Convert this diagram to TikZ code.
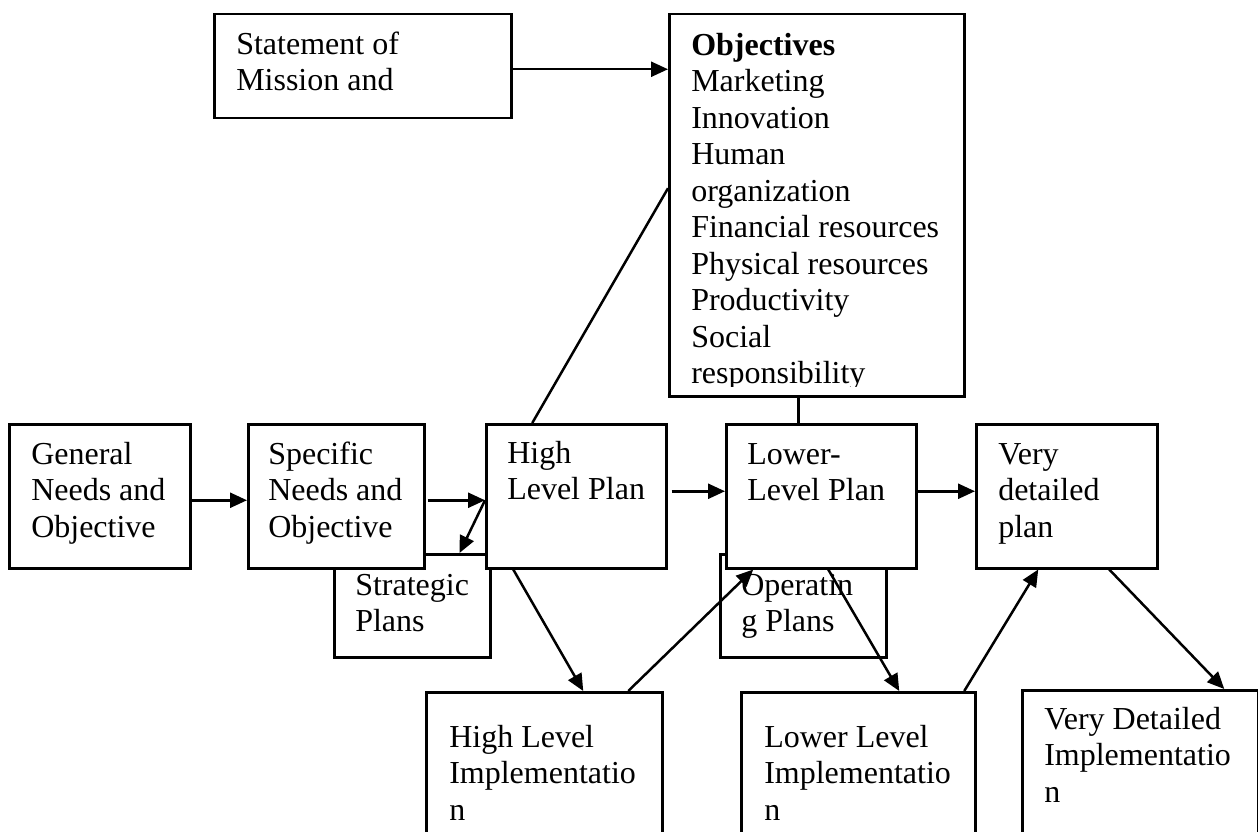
\documentclass[tikz,border=0pt]{standalone}
\usepackage{fontspec}
\setmainfont{Liberation Serif}
\usetikzlibrary{arrows.meta}
\tikzset{
  box/.style={draw, fill=white, line width=2.5pt, anchor=north west,
    inner ysep=0pt, inner xsep=22pt, align=flush left,
    font=\fontsize{32}{36.5}\selectfont},
  conn/.style={line width=2.5pt},
  arr/.style={line width=2.5pt, -{Triangle[length=17pt,width=15pt]}}
}
\begin{document}
\begin{tikzpicture}[x=1pt,y=-1pt]
\clip (0,0) rectangle (1258,832);
\fill[white] (0,0) rectangle (1258,832);
% boxes lying behind
\node[box, text width=114pt, text height=41pt, text depth=62pt, inner xsep=21pt] (strat) at (333,553) {Strategic\\Plans};
\node[box, text width=124pt, text height=41pt, text depth=62pt, inner xsep=21pt] (oper) at (719,553) {Operatin\\g~Plans};
% top boxes
\node[box, text width=253pt, text height=40pt, text depth=64pt] (stmt) at (213,13) {Statement~of\\Mission~and};
\node[box, text width=251pt, text height=41pt, text depth=341pt] (obj) at (668,13) {\textbf{Objectives}\\Marketing\\Innovation\\Human\\organization\\Financial~resources\\Physical~resources\\Productivity\\Social\\responsibility};
\fill[white] ([xshift=3pt,yshift=3pt]obj.south west) rectangle ([xshift=-3pt,yshift=11pt]obj.south east);
% middle row
\node[box, text width=137pt, text height=40pt, text depth=104pt] (gen) at (8,423) {General\\Needs~and\\Objective};
\node[box, text width=136pt, text height=40pt, text depth=104pt, inner xsep=20pt] (spec) at (247,423) {Specific\\Needs~and\\Objective};
\node[box, text width=138pt, text height=39pt, text depth=105pt, inner xsep=21pt] (high) at (485,423) {High\\Level~Plan};
\node[box, text width=148pt, text height=40pt, text depth=104pt, inner xsep=21pt] (lower) at (725,423) {Lower-\\Level~Plan};
\node[box, text width=137pt, text height=40pt, text depth=104pt] (very) at (975,423) {Very\\detailed\\plan};
% bottom row
\node[box, text width=190pt, text height=55pt, text depth=154pt, inner xsep=23pt] (himp) at (425,691) {High~Level\\Implementatio\\n};
\node[box, text width=188pt, text height=55pt, text depth=154pt, inner xsep=23pt] (limp) at (740,691) {Lower~Level\\Implementatio\\n};
\node[box, text width=192pt, text height=39pt, text depth=172pt] (vimp) at (1021,689) {Very~Detailed\\Implementatio\\n};
% connectors
\draw[arr] ([yshift=-3pt]stmt.east) -- ([yshift=-3pt]stmt.east -| obj.west);
\draw[arr] ([yshift=-4pt]gen.east) -- ([yshift=-4pt]gen.east -| spec.west);
\draw[arr] ([xshift=2pt,yshift=-4pt]spec.east) -- ([yshift=-4pt]spec.east -| high.west);
\draw[arr] ([yshift=-4pt]high.west) -- ([xshift=-32pt]strat.north east);
\draw[arr] ([xshift=4pt,yshift=5pt]high.east) -- ([yshift=5pt]high.east -| lower.west);
\draw[arr] ([yshift=5pt]lower.east) -- ([yshift=5pt]lower.east -| very.west);
\draw[conn] ([xshift=-23pt]lower.north) -- ([xshift=-23pt]lower.north |- obj.south);
\draw[conn] ([yshift=17pt]obj.west) -- ([xshift=-44pt]high.north);
\draw[arr] ([xshift=-63pt]high.south) -- ([xshift=39pt]himp.north);
\draw[arr] ([xshift=84pt]himp.north) -- ([xshift=-68pt]lower.south);
\draw[arr] ([xshift=7pt]lower.south) -- ([xshift=41pt]limp.north);
\draw[arr] ([xshift=106pt]limp.north) -- ([xshift=-28.5pt]very.south);
\draw[arr] ([xshift=42.5pt]very.south) -- ([xshift=84pt]vimp.north);
\end{tikzpicture}
\end{document}
